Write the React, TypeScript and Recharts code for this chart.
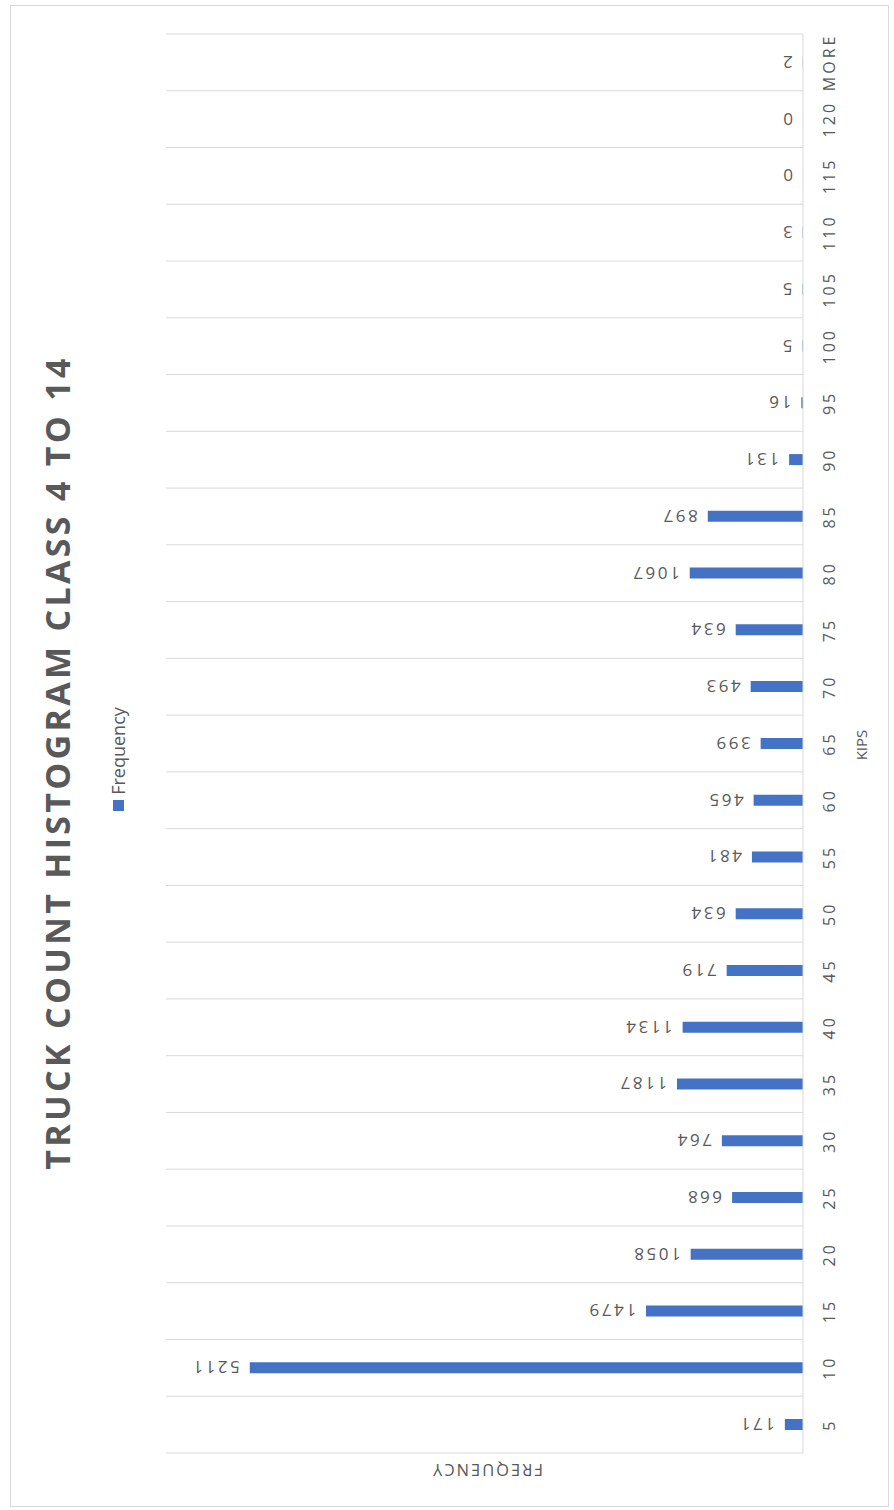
import React from 'react';
import { BarChart, Bar, XAxis, YAxis, CartesianGrid, LabelList } from 'recharts';

const categories = ['5', '10', '15', '20', '25', '30', '35', '40', '45', '50', '55', '60', '65', '70', '75', '80', '85', '90', '95', '100', '105', '110', '115', '120', 'MORE'];
const frequency = [171, 5211, 1479, 1058, 668, 764, 1187, 1134, 719, 634, 481, 465, 399, 493, 634, 1067, 897, 131, 16, 5, 5, 3, 0, 0, 2];
const titleText = 'TRUCK COUNT HISTOGRAM CLASS 4 TO 14';
const seriesName = 'Frequency';
const xAxisTitle = 'KIPS';
const yAxisTitle = 'FREQUENCY';
const valueDomain = [0, 6000];

const data = categories.map((c, i) => ({ kips: c, frequency: frequency[i] }));

const W = 1510;
const H = 894;
const FONT = '"Open Sans", "Liberation Sans", sans-serif';
const GRAY = '#595959';
const BLUE = '#4472C4';
const GRID = '#d9d9d9';

function CategoryTick(props: any) {
  const { x, y, payload } = props;
  return (
    <text
      x={x}
      y={y + 26}
      textAnchor="middle"
      dominantBaseline="central"
      fill={GRAY}
      fontSize={16}
      fontFamily={FONT}
      style={{ letterSpacing: '3px' }}
    >
      {payload.value}
    </text>
  );
}

function ValueLabel(props: any) {
  const { x, y, width, value } = props;
  const cx = Number(x) + Number(width) / 2;
  const ty = Number(y) - 10;
  return (
    <text
      x={0}
      y={0}
      transform={`translate(${cx},${ty}) rotate(-90)`}
      textAnchor="start"
      dominantBaseline="central"
      fill={GRAY}
      fontSize={17}
      fontFamily={FONT}
      style={{ letterSpacing: '2.5px' }}
    >
      {String(value)}
    </text>
  );
}

export default function App() {
  const n = categories.length;
  return (
    <div style={{ position: 'absolute', left: 0, top: 0, width: 894, height: 1510, overflow: 'hidden', background: '#fff' }}>
      <div style={{ position: 'absolute', left: 10, top: 5, width: 879, height: 1502, border: '1px solid #d9d9d9', boxSizing: 'border-box' }} />
      <div
        style={{
          position: 'absolute',
          left: 0,
          top: 0,
          width: W,
          height: H,
          transformOrigin: '0 0',
          transform: `translate(0px, ${1510}px) rotate(-90deg)`,
        }}
      >
        <BarChart width={W} height={H} data={data} margin={{ top: 166, right: 34, bottom: 31, left: 57 }}>
          <CartesianGrid
            horizontal={false}
            stroke={GRID}
            verticalCoordinatesGenerator={(p: any) => {
              const off = p.offset;
              const out: number[] = [];
              for (let i = 0; i <= n; i++) out.push(off.left + (i * off.width) / n);
              return out;
            }}
          />
          <XAxis
            dataKey="kips"
            type="category"
            interval={0}
            height={60}
            tickSize={0}
            tickMargin={0}
            tickLine={false}
            axisLine={{ stroke: GRID }}
            tick={<CategoryTick />}
          />
          <YAxis hide domain={valueDomain} type="number" />
          <Bar dataKey="frequency" name={seriesName} fill={BLUE} barSize={11} minPointSize={0.01} isAnimationActive={false}>
            <LabelList dataKey="frequency" content={<ValueLabel />} />
          </Bar>
        </BarChart>
        <div
          style={{
            position: 'absolute',
            left: 0,
            top: 37,
            width: 1495,
            textAlign: 'center',
            fontFamily: FONT,
            fontWeight: 700,
            fontSize: 34,
            lineHeight: '40px',
            letterSpacing: '3.3px',
            color: GRAY,
            whiteSpace: 'nowrap',
          }}
        >
          {titleText}
        </div>
        <div
          style={{
            position: 'absolute',
            left: 0,
            top: 105,
            width: W - 8,
            height: 26,
            display: 'flex',
            justifyContent: 'center',
            alignItems: 'center',
            fontFamily: FONT,
            fontSize: 18,
            color: GRAY,
          }}
        >
          <span style={{ display: 'inline-block', width: 11, height: 11, background: BLUE, marginRight: 5 }} />
          <span>{seriesName}</span>
        </div>
        <div
          style={{
            position: 'absolute',
            left: 765,
            top: 861,
            transform: 'translate(-50%, -50%)',
            fontFamily: FONT,
            fontSize: 15,
            color: GRAY,
            whiteSpace: 'nowrap',
          }}
        >
          {xAxisTitle}
        </div>
        <div
          style={{
            position: 'absolute',
            left: 40,
            top: 487,
            transform: 'translate(-50%, -50%) rotate(-90deg)',
            fontFamily: FONT,
            fontSize: 16.5,
            letterSpacing: '2px',
            color: GRAY,
            whiteSpace: 'nowrap',
          }}
        >
          {yAxisTitle}
        </div>
      </div>
    </div>
  );
}
